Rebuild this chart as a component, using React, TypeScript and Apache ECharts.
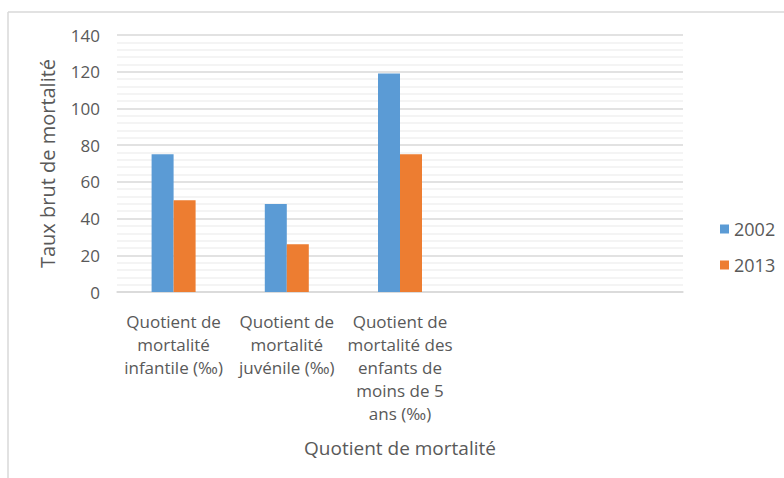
import React, { useEffect, useRef } from "react";
import * as echarts from "echarts";

const categories = [
  "Quotient de\nmortalité\ninfantile (‰)",
  "Quotient de\nmortalité\njuvénile (‰)",
  "Quotient de\nmortalité des\nenfants de\nmoins de 5\nans (‰)",
  "",
  "",
];
const values2002 = [75, 48, 119, null, null];
const values2013 = [50, 26, 75, null, null];
const seriesNames = ["2002", "2013"];
const yTitle = "Taux brut de mortalité";
const xTitle = "Quotient de mortalité";

const FONT = "'Open Sans', 'Noto Sans', sans-serif";

export default function App() {
  const ref = useRef<HTMLDivElement>(null);
  useEffect(() => {
    if (!ref.current) return;
    const chart = echarts.init(ref.current, undefined, { renderer: "svg" });
    chart.setOption({
      animation: false,
      backgroundColor: "#ffffff",
      textStyle: { fontFamily: FONT },
      graphic: [
        { type: "line", shape: { x1: 8, y1: 12, x2: 8, y2: 478 }, style: { stroke: "#d9d9d9", lineWidth: 1.5 } },
        { type: "line", shape: { x1: 8, y1: 12, x2: 784, y2: 12 }, style: { stroke: "#d9d9d9", lineWidth: 1.5 } },
      ],
      grid: { left: 117, right: 101, top: 35, bottom: 186 },
      legend: {
        orient: "vertical",
        left: 715,
        top: 214,
        itemWidth: 9,
        itemHeight: 9,
        itemGap: 16,
        icon: "rect",
        textStyle: { fontSize: 18, lineHeight: 20, color: "#595959", fontFamily: FONT },
        data: seriesNames,
      },
      xAxis: {
        type: "category",
        data: categories,
        name: xTitle,
        nameLocation: "middle",
        nameGap: 146,
        nameTextStyle: { fontSize: 19, color: "#595959", fontFamily: FONT },
        axisLine: { lineStyle: { color: "#d9d9d9", width: 1.5 } },
        axisTick: { show: false },
        axisLabel: {
          interval: 0,
          fontSize: 17,
          lineHeight: 23,
          color: "#595959",
          margin: 18,
          fontFamily: FONT,
        },
      },
      yAxis: {
        type: "value",
        min: 0,
        max: 140,
        interval: 20,
        name: yTitle,
        nameLocation: "middle",
        nameGap: 60,
        nameTextStyle: { fontSize: 20, color: "#595959", fontFamily: FONT },
        axisLine: { show: false },
        axisTick: { show: false },
        axisLabel: { fontSize: 17, color: "#595959", margin: 17, fontFamily: FONT },
        splitLine: { lineStyle: { color: "#d9d9d9", width: 1.5 } },
        minorTick: { show: false, splitNumber: 5 },
        minorSplitLine: { show: true, lineStyle: { color: "#f0f0f0", width: 1.5 } },
      },
      series: [
        {
          name: seriesNames[0],
          type: "bar",
          data: values2002,
          barWidth: 22,
          barGap: "0%",
          itemStyle: { color: "#5B9BD5" },
        },
        {
          name: seriesNames[1],
          type: "bar",
          data: values2013,
          barWidth: 22,
          barGap: "0%",
          itemStyle: { color: "#ED7D31" },
        },
      ],
    });
    return () => chart.dispose();
  }, []);
  return (
    <div
      ref={ref}
      style={{ position: "fixed", left: 0, top: 0, width: 784, height: 478 }}
    />
  );
}
